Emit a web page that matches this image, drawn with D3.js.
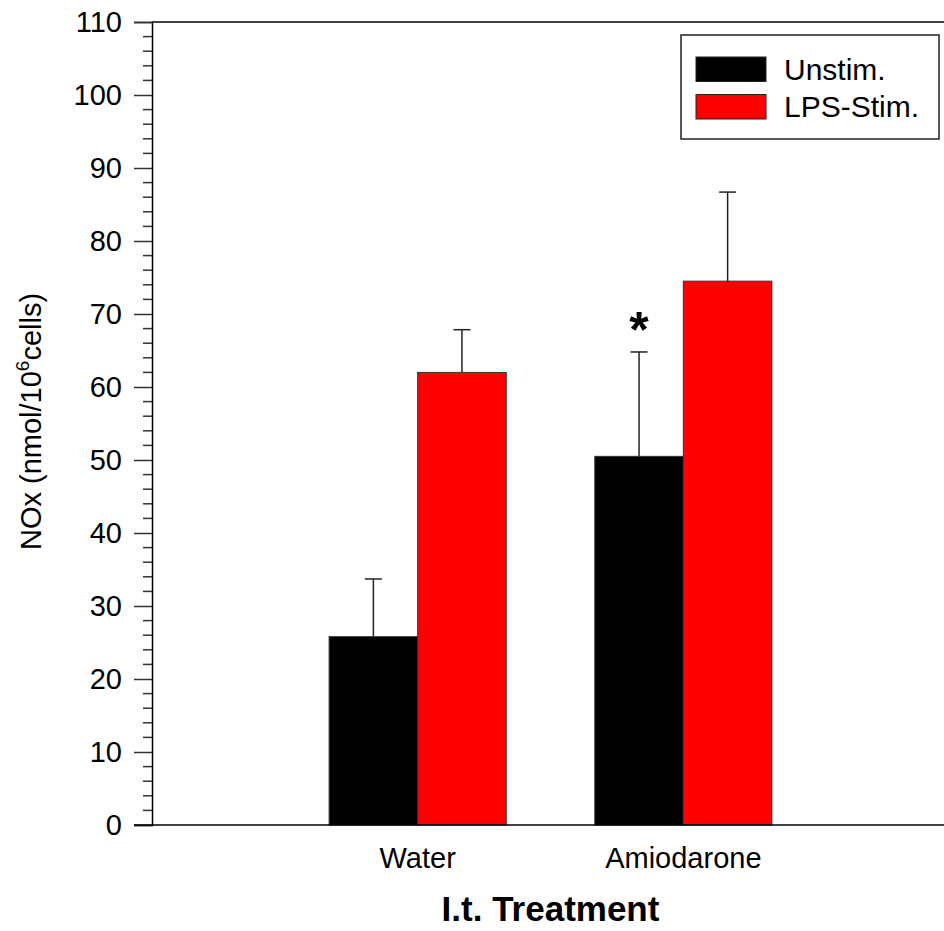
<!DOCTYPE html>
<html>
<head>
<meta charset="utf-8">
<script src="https://cdn.jsdelivr.net/npm/d3@7/dist/d3.min.js"></script>
<style>
  html, body { margin: 0; padding: 0; background: #fff; }
  svg { display: block; font-family: "Liberation Sans", Arial, sans-serif; }
</style>
</head>
<body>
<svg id="chart" width="944" height="931"></svg>
<script>
// NOx production by alveolar macrophages after intratracheal treatment
const categories = ["Water", "Amiodarone"];
const seriesNames = ["Unstim.", "LPS-Stim."];
const seriesColors = ["#000000", "#ff0000"];
const unstimValues = [25.8, 50.5];
const unstimErrors = [7.9, 14.3];
const lpsValues = [62.0, 74.5];
const lpsErrors = [5.85, 12.2];
const yTicks = [0, 10, 20, 30, 40, 50, 60, 70, 80, 90, 100, 110];
const significant = [false, true]; // marks an asterisk over the unstimulated bar

const svg = d3.select("#chart");
const plotLeft = 152, plotRight = 949, plotTop = 22, plotBottom = 825;

const y = d3.scaleLinear().domain([0, 110]).range([plotBottom, plotTop]);
const x = d3.scalePoint().domain(categories).range([plotLeft, plotRight]).padding(1);
const step = x.step();
const inner = d3.scaleBand().domain(seriesNames).range([-step / 3, step / 3]);

const rows = [];
categories.forEach((c, i) => {
  rows.push({ cat: c, s: seriesNames[0], v: unstimValues[i], e: unstimErrors[i], color: seriesColors[0], sig: significant[i] });
  rows.push({ cat: c, s: seriesNames[1], v: lpsValues[i], e: lpsErrors[i], color: seriesColors[1], sig: false });
});

// error bars (upper only), drawn beneath the bars
const eb = svg.append("g").attr("stroke", "#222").attr("stroke-width", 1.5);
rows.forEach(d => {
  const cx = x(d.cat) + inner(d.s) + inner.bandwidth() / 2;
  eb.append("line").attr("x1", cx).attr("x2", cx).attr("y1", y(d.v)).attr("y2", y(d.v + d.e));
  eb.append("line").attr("x1", cx - 8.5).attr("x2", cx + 8.5).attr("y1", y(d.v + d.e)).attr("y2", y(d.v + d.e));
});

// bars
svg.append("g").selectAll("rect").data(rows).join("rect")
  .attr("x", d => x(d.cat) + inner(d.s))
  .attr("y", d => y(d.v))
  .attr("width", inner.bandwidth())
  .attr("height", d => y(0) - y(d.v))
  .attr("fill", d => d.color)
  .attr("stroke", "#333")
  .attr("stroke-width", 1);

// significance marker
rows.filter(d => d.sig).forEach(d => {
  const cx = x(d.cat) + inner(d.s) + inner.bandwidth() / 2;
  svg.append("text").attr("x", cx).attr("y", y(d.v + d.e) - 5)
    .attr("text-anchor", "middle").attr("font-size", 50).attr("font-weight", "bold")
    .text("*");
});

// y axis with minor ticks
const yAxis = svg.append("g").attr("transform", `translate(${plotLeft},0)`)
  .call(d3.axisLeft(y).tickValues(yTicks).tickSize(18).tickPadding(12).tickFormat(d3.format("d")));
yAxis.select(".domain").attr("stroke", "#000").attr("stroke-width", 1.5);
yAxis.selectAll(".tick line").attr("stroke", "#333").attr("stroke-width", 1.5);
yAxis.selectAll("text").attr("font-size", 29).attr("fill", "#000").attr("font-family", "Liberation Sans, Arial, sans-serif");
const minor = d3.range(0, 111, 2).filter(v => v % 10 !== 0);
yAxis.append("g").selectAll("line").data(minor).join("line")
  .attr("x1", -9).attr("x2", 0).attr("y1", d => y(d)).attr("y2", d => y(d))
  .attr("stroke", "#333").attr("stroke-width", 1.5);

// frame lines top and bottom
svg.append("line").attr("x1", plotLeft).attr("x2", 944).attr("y1", plotTop).attr("y2", plotTop).attr("stroke", "#000").attr("stroke-width", 1.5);
svg.append("line").attr("x1", plotLeft - 18).attr("x2", 944).attr("y1", plotBottom).attr("y2", plotBottom).attr("stroke", "#000").attr("stroke-width", 1.5);

// category labels
svg.append("g").selectAll("text").data(categories).join("text")
  .attr("x", d => x(d)).attr("y", 868).attr("text-anchor", "middle")
  .attr("font-size", 29).text(d => d);

// axis titles
svg.append("text").attr("x", (plotLeft + plotRight) / 2).attr("y", 921).attr("text-anchor", "middle")
  .attr("font-size", 35).attr("font-weight", "bold").text("I.t. Treatment");

const yl = svg.append("text").attr("transform", `translate(41,${(plotTop + plotBottom) / 2 - 2}) rotate(-90)`)
  .attr("text-anchor", "middle").attr("font-size", 29);
yl.append("tspan").text("NOx (nmol/10");
yl.append("tspan").attr("font-size", 19).attr("dy", -12).text("6");
yl.append("tspan").attr("dy", 12).text("cells)");

// legend
const lg = svg.append("g");
lg.append("rect").attr("x", 681).attr("y", 35).attr("width", 258).attr("height", 104)
  .attr("fill", "#fff").attr("stroke", "#222").attr("stroke-width", 1.5);
seriesNames.forEach((s, i) => {
  lg.append("rect").attr("x", 696).attr("y", 57 + i * 37.5).attr("width", 70).attr("height", 24.5)
    .attr("fill", seriesColors[i]).attr("stroke", "#222").attr("stroke-width", 1);
  lg.append("text").attr("x", 784).attr("y", 80 + i * 37).attr("font-size", 30).text(s);
});
</script>
</body>
</html>
